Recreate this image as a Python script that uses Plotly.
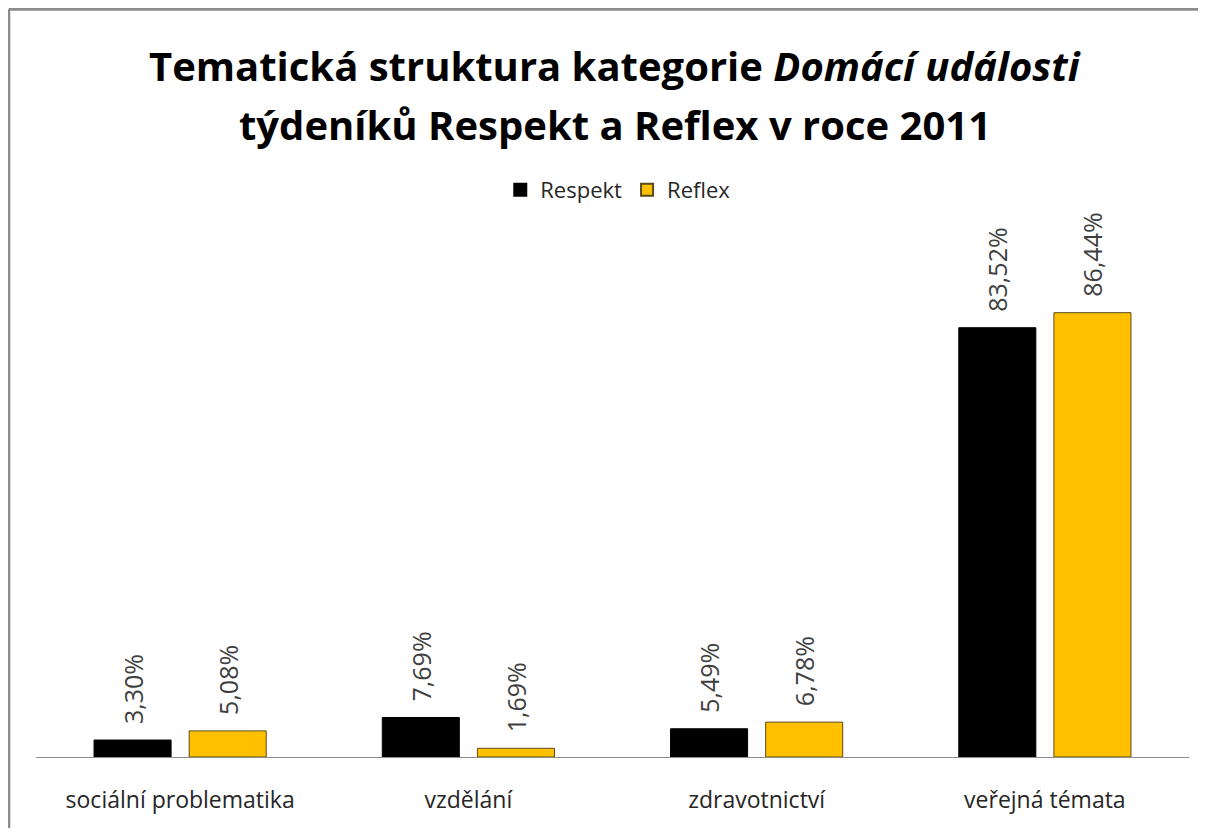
import plotly.graph_objects as go

categories = ["sociální problematika", "vzdělání", "zdravotnictví", "veřejná témata"]
respekt = [3.30, 7.69, 5.49, 83.52]
reflex = [5.08, 1.69, 6.78, 86.44]

title_line1 = "Tematická struktura kategorie <i>Domácí události</i>"
title_line2 = "týdeníků Respekt a Reflex v roce 2011"


def fmt(v):
    # česká desetinná čárka, malá mezera nad sloupcem
    return "\u00a0\u00a0" + f"{v:.2f}".replace(".", ",") + "%"


fig = go.Figure()

fig.add_trace(go.Bar(
    x=categories,
    y=respekt,
    name="Respekt",
    marker=dict(color="#000000", line=dict(color="#000000", width=1)),
    text=[fmt(v) for v in respekt],
    textposition="outside",
    textangle=-90,
    constraintext="none",
    textfont=dict(size=25, color="#404040"),
    cliponaxis=False,
))

fig.add_trace(go.Bar(
    x=categories,
    y=reflex,
    name="Reflex",
    marker=dict(color="#FFC000", line=dict(color="#5a4a1a", width=1)),
    text=[fmt(v) for v in reflex],
    textposition="outside",
    textangle=-90,
    constraintext="none",
    textfont=dict(size=25, color="#404040"),
    cliponaxis=False,
))

# nadpis ve dvou řádcích
fig.add_annotation(text="<b>" + title_line1 + "</b>", xref="paper", yref="paper",
                   x=0.502, y=1.3463, xanchor="center", yanchor="middle",
                   showarrow=False, font=dict(size=40, color="#000000"))
fig.add_annotation(text="<b>" + title_line2 + "</b>", xref="paper", yref="paper",
                   x=0.502, y=1.2296, xanchor="center", yanchor="middle",
                   showarrow=False, font=dict(size=40, color="#000000"))

# rámeček grafu (levá a horní hrana)
fig.add_shape(type="line", xref="paper", yref="paper",
              x0=-0.0236, x1=-0.0236, y0=1.455, y1=-0.2,
              line=dict(color="#8c8c8c", width=3))
fig.add_shape(type="line", xref="paper", yref="paper",
              x0=-0.0236, x1=1.1, y0=1.455, y1=1.455,
              line=dict(color="#8c8c8c", width=3))

fig.update_layout(
    width=1190,
    height=820,
    margin=dict(l=28, r=9, t=235, b=71),
    paper_bgcolor="white",
    plot_bgcolor="white",
    font=dict(family="Open Sans", color="#262626"),
    barmode="group",
    bargap=0.34,
    bargroupgap=0.19,
    legend=dict(
        orientation="h",
        x=0.505, xanchor="center",
        y=1.103, yanchor="middle",
        font=dict(size=22, color="#262626"),
        itemsizing="constant",
        itemwidth=30,
    ),
    xaxis=dict(
        showline=True,
        linecolor="#8c8c8c",
        linewidth=1,
        ticks="",
        tickfont=dict(size=23, color="#262626"),
        ticklabelstandoff=22,
        showgrid=False,
    ),
    yaxis=dict(
        range=[0, 100],
        visible=False,
        showgrid=False,
    ),
)

fig.write_html("out.html")
